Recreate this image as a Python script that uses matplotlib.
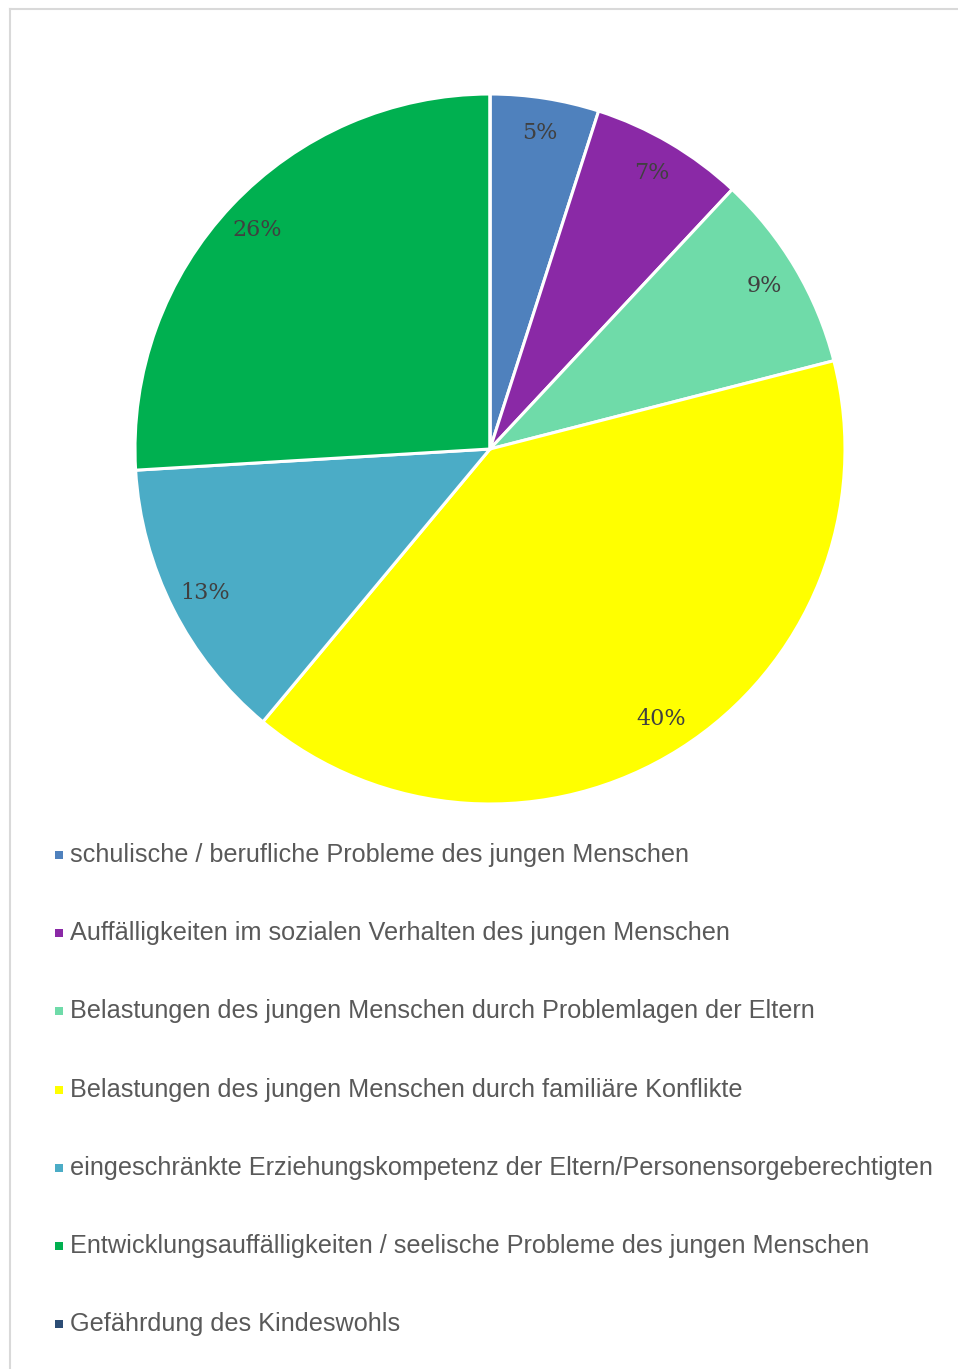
import matplotlib
matplotlib.use("Agg")
from matplotlib import pyplot as plt
from matplotlib.patches import Rectangle
from matplotlib.lines import Line2D

# shares (percent), clockwise from 12 o'clock
labels = [
    "schulische / berufliche Probleme des jungen Menschen",
    "Auffälligkeiten im sozialen Verhalten des jungen Menschen",
    "Belastungen des jungen Menschen durch Problemlagen der Eltern",
    "Belastungen des jungen Menschen durch familiäre Konflikte",
    "eingeschränkte Erziehungskompetenz der Eltern/Personensorgeberechtigten",
    "Entwicklungsauffälligkeiten / seelische Probleme des jungen Menschen",
    "Gefährdung des Kindeswohls",
]
values = [4.95, 7.0, 9.05, 40.05, 13.0, 25.95, 0.0]
colors = ["#4F81BD", "#8A29A6", "#6FDBA9", "#FFFF00", "#4BACC6", "#00B050", "#2C4D75"]

W, H = 958, 1369
fig = plt.figure(figsize=(W / 100, H / 100), dpi=100)

# outer frame (only top/left visible in the original)
fig.add_artist(Line2D([9.5 / W, 9.5 / W], [0, 1 - 9 / H], color="#D9D9D9", lw=1.5))
fig.add_artist(Line2D([9.5 / W, 1], [1 - 9 / H, 1 - 9 / H], color="#D9D9D9", lw=1.5))

# pie axes: centre (490, 449) px, radius 355 px
cx, cy, r = 490, 449, 355
ax = fig.add_axes([(cx - r) / W, (H - cy - r) / H, 2 * r / W, 2 * r / H])


def pct(p):
    return "" if p < 0.5 else f"{p:.0f}%"


wedges, texts, autotexts = ax.pie(
    values, colors=colors, startangle=90, counterclock=False,
    autopct=pct, pctdistance=0.9, radius=1,
    wedgeprops=dict(edgecolor="white", linewidth=2.2, clip_on=False),
    textprops=dict(color="#404040", fontsize=16, family="DejaVu Serif"),
)
ax.set_xlim(-1, 1)
ax.set_ylim(-1, 1)
ax.set_aspect("equal")
ax.axis("off")

# legend, one row per category
y0, dy = 855, 78.2
for i, (lab, col) in enumerate(zip(labels, colors)):
    y = y0 + i * dy
    fig.add_artist(Rectangle((55 / W, 1 - (y + 4) / H), 8 / W, 8 / H,
                             facecolor=col, edgecolor="none"))
    fig.text(70 / W, 1 - y / H, lab, ha="left", va="center",
             fontsize=18.2, color="#595959", family="Liberation Sans")

fig.savefig("out.png", dpi=100, facecolor="white")
